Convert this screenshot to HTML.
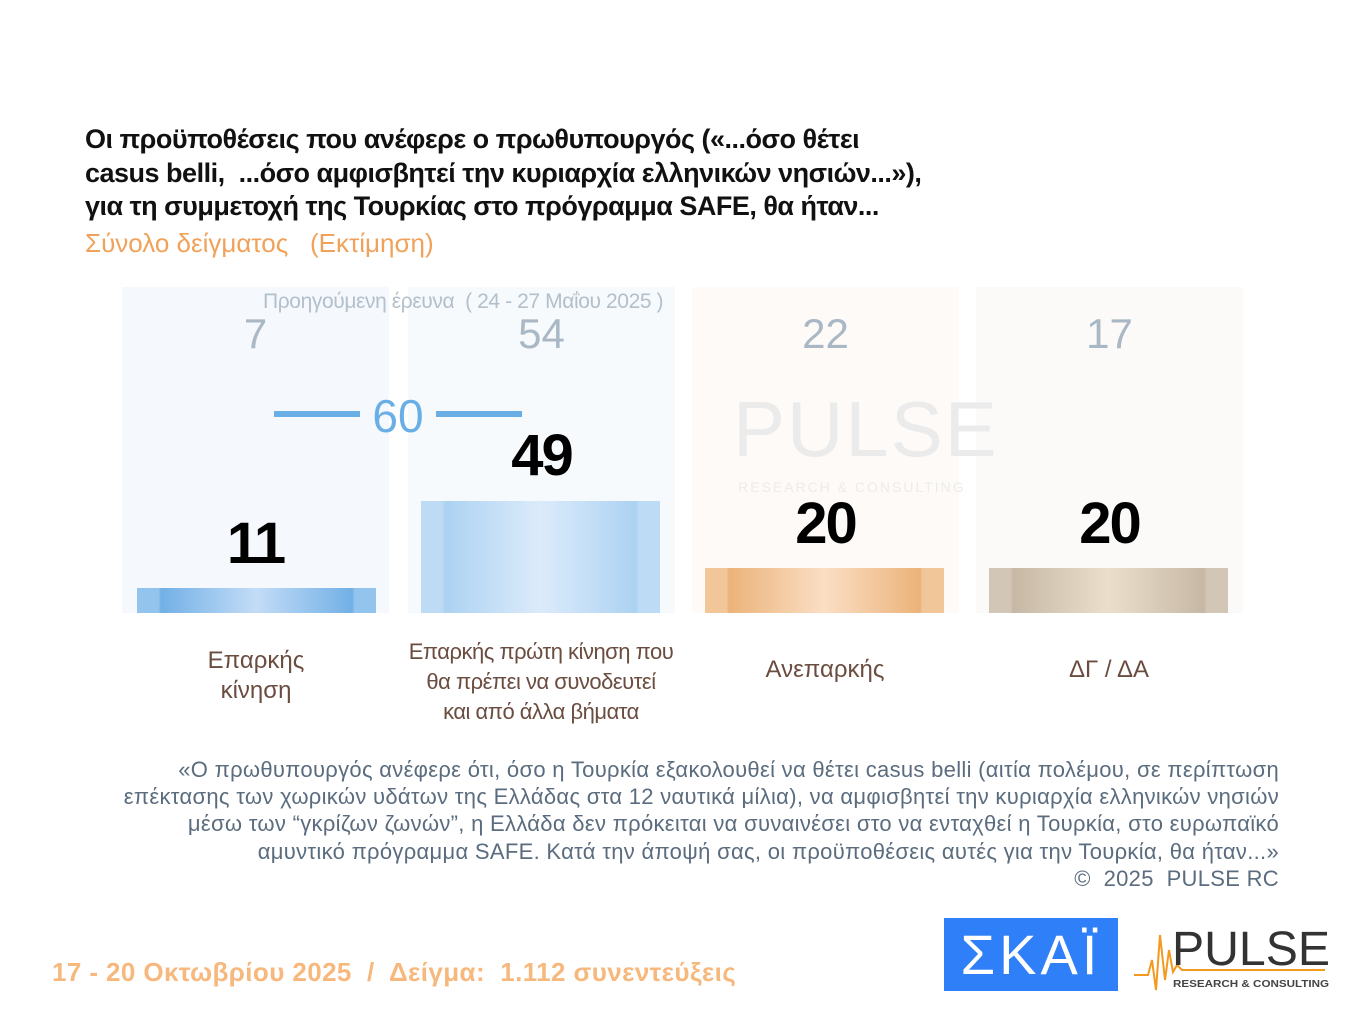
<!DOCTYPE html>
<html><head><meta charset="utf-8"><style>
body{margin:0;width:1360px;height:1020px;background:#fff;position:relative;overflow:hidden;font-family:"Liberation Sans",sans-serif}
.a{position:absolute;white-space:nowrap}
.t{left:85px;font-weight:bold;font-size:27px;color:#111;letter-spacing:-0.5px}
.p{position:absolute;top:287px;height:326px;width:267px}
.bar{position:absolute;width:239px}
.val{position:absolute;width:267px;text-align:center;font-weight:bold;font-size:58px;color:#000;letter-spacing:-2px}
.prev{position:absolute;width:267px;text-align:center;font-size:42px;color:#a9b8c4;top:310px}
.cat{position:absolute;width:300px;text-align:center;font-size:24px;color:#6b4d40;line-height:30px;white-space:nowrap}
.fn{right:81px;text-align:right;font-size:22px;color:#5a6c7e;line-height:27.2px;top:756px;letter-spacing:0.3px}
</style></head><body>
<div class="a t" style="top:124px">Οι προϋποθέσεις που ανέφερε ο πρωθυπουργός («...όσο θέτει</div>
<div class="a t" style="top:158px">casus belli,&nbsp; ...όσο αμφισβητεί την κυριαρχία ελληνικών νησιών...»),</div>
<div class="a t" style="top:191px">για τη συμμετοχή της Τουρκίας στο πρόγραμμα SAFE, θα ήταν...</div>
<div class="a" style="left:85px;top:228px;font-size:26px;color:#f0a25a">Σύνολο δείγματος &nbsp;&nbsp;(Εκτίμηση)</div>

<div class="p" style="left:122px;background:#f5f9fd"></div>
<div class="p" style="left:408px;background:#f6fafd"></div>
<div class="p" style="left:692px;background:#fdfaf7"></div>
<div class="p" style="left:976px;background:#fbfaf8"></div>

<div class="a" style="left:733px;top:384px;font-size:78px;color:#ebebeb;letter-spacing:2px;font-weight:300">PULSE</div>
<div class="a" style="left:738px;top:479px;font-size:14px;color:#ececec;letter-spacing:2px">RESEARCH &amp; CONSULTING</div>

<div class="a" style="left:263px;top:290px;font-size:21px;color:#b3bfca;letter-spacing:-0.4px">Προηγούμενη έρευνα &nbsp;( 24 - 27 Μαΐου 2025 )</div>
<div class="prev" style="left:122px">7</div>
<div class="prev" style="left:408px">54</div>
<div class="prev" style="left:692px">22</div>
<div class="prev" style="left:976px">17</div>

<div class="a" style="left:274px;top:411px;width:86px;height:6px;background:#6aaee6"></div>
<div class="a" style="left:436px;top:411px;width:86px;height:6px;background:#6aaee6"></div>
<div class="a" style="left:360px;top:389px;width:76px;text-align:center;font-size:46px;color:#6aaee6">60</div>

<div class="bar" style="left:137px;top:588px;height:25px;background:linear-gradient(90deg,#93c4ee 0,#93c4ee 9%,#72b0e6 10%,#c3dcf7 50%,#72b0e6 90%,#93c4ee 91%)"></div>
<div class="bar" style="left:421px;top:501px;height:112px;background:linear-gradient(90deg,#bedbf6 0,#bedbf6 9%,#acd2f2 10%,#dcebfb 50%,#acd2f2 90%,#bedbf6 91%)"></div>
<div class="bar" style="left:705px;top:568px;height:45px;background:linear-gradient(90deg,#f1c799 0,#f1c799 9%,#ebb37a 10%,#fbdec4 50%,#ebb37a 90%,#f1c799 91%)"></div>
<div class="bar" style="left:989px;top:568px;height:45px;background:linear-gradient(90deg,#d2c6b6 0,#d2c6b6 9%,#c6b8a4 10%,#ebdfcb 50%,#c6b8a4 90%,#d2c6b6 91%)"></div>

<div class="val" style="left:122px;top:510px">11</div>
<div class="val" style="left:408px;top:422px">49</div>
<div class="val" style="left:692px;top:490px">20</div>
<div class="val" style="left:976px;top:490px">20</div>

<div class="cat" style="left:106px;top:646px">Επαρκής<br>κίνηση</div>
<div class="cat" style="left:391px;top:637px;font-size:22px;letter-spacing:-0.5px">Επαρκής πρώτη κίνηση που<br>θα πρέπει να συνοδευτεί<br>και από άλλα βήματα</div>
<div class="cat" style="left:675px;top:655px">Ανεπαρκής</div>
<div class="cat" style="left:959px;top:655px">ΔΓ / ΔΑ</div>

<div class="a fn">«Ο πρωθυπουργός ανέφερε ότι, όσο η Τουρκία εξακολουθεί να θέτει casus belli (αιτία πολέμου, σε περίπτωση<br>επέκτασης των χωρικών υδάτων της Ελλάδας στα 12 ναυτικά μίλια), να αμφισβητεί την κυριαρχία ελληνικών νησιών<br>μέσω των “γκρίζων ζωνών”, η Ελλάδα δεν πρόκειται να συναινέσει στο να ενταχθεί η Τουρκία, στο ευρωπαϊκό<br>αμυντικό πρόγραμμα SAFE. Κατά την άποψή σας, οι προϋποθέσεις αυτές για την Τουρκία, θα ήταν...»<br>©&nbsp; 2025&nbsp; PULSE RC</div>

<div class="a" style="left:52px;top:957px;font-size:26px;font-weight:bold;color:#f6b87c;letter-spacing:0.4px">17 - 20 Οκτωβρίου 2025 &nbsp;/&nbsp; Δείγμα:&nbsp; 1.112 συνεντεύξεις</div>

<div class="a" style="left:944px;top:918px;width:174px;height:73px;background:#2f7ff8;color:#fff;font-size:56px;text-align:center;line-height:73px;letter-spacing:4px">ΣΚΑΪ</div>
<svg class="a" style="left:1130px;top:920px" width="220" height="80">
<polyline points="4,55 18,55 22,40 26,70 30,15 35,60 39,30 43,52 47,45 52,50 195,50" fill="none" stroke="#f39a1e" stroke-width="2"/>
<text x="42" y="45" font-family="Liberation Sans" font-size="48" fill="#333" textLength="158" lengthAdjust="spacingAndGlyphs">PULSE</text>
<text x="43" y="67" font-family="Liberation Sans" font-size="10" fill="#444" font-weight="bold" textLength="156" lengthAdjust="spacingAndGlyphs">RESEARCH &amp; CONSULTING</text>
</svg>
</body></html>
